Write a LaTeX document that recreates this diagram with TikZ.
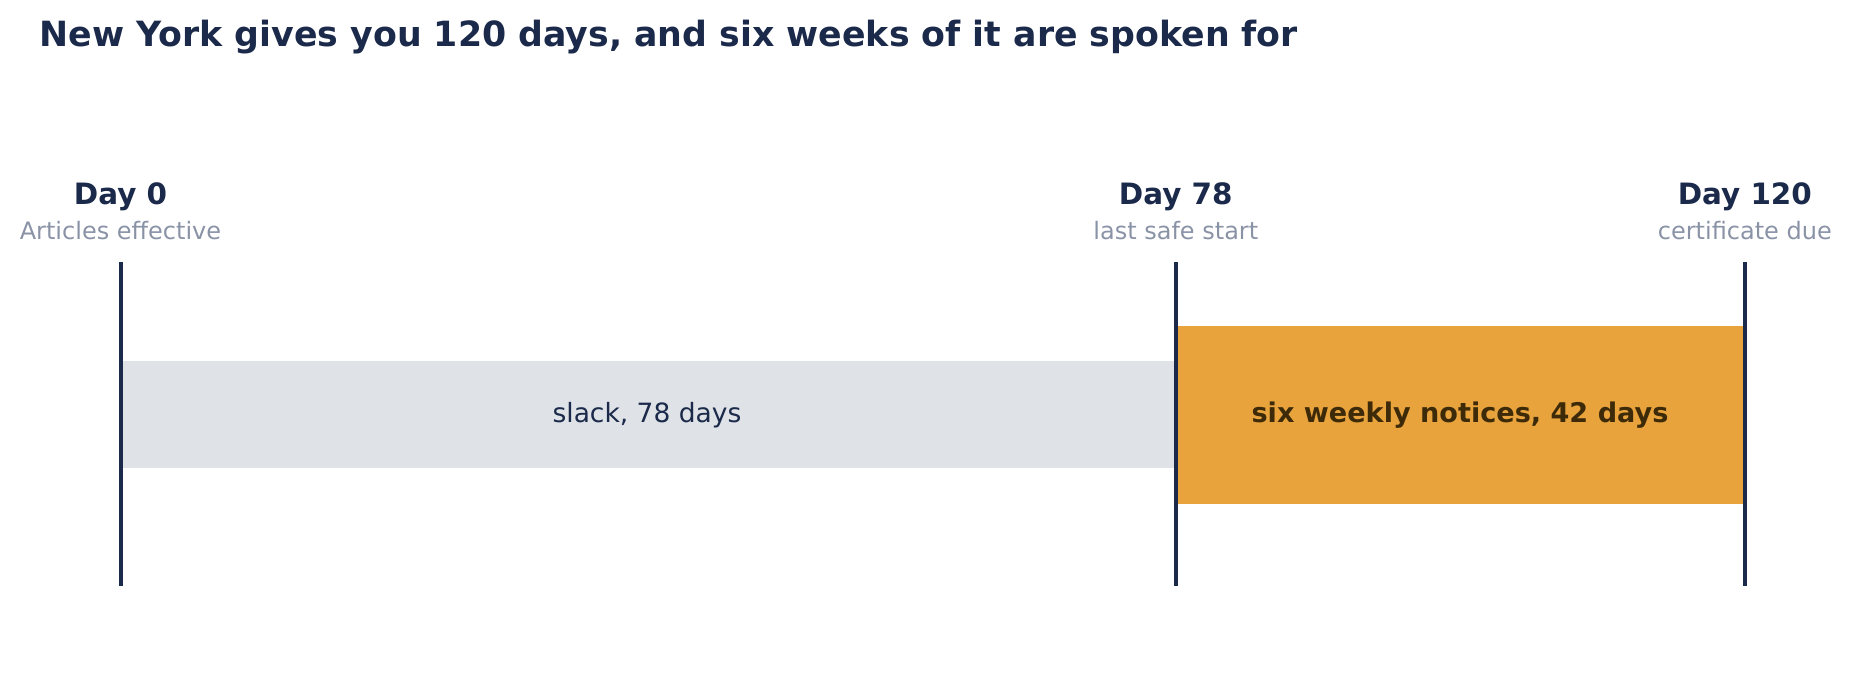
\documentclass[tikz,border=0pt]{standalone}
\usepackage{fontspec}
\setmainfont{DejaVu Sans}
\definecolor{navy}{HTML}{1B2A4A}
\definecolor{subgray}{HTML}{8A93A6}
\definecolor{slackgray}{HTML}{DFE2E6}
\definecolor{orangebar}{HTML}{E8A33C}
\definecolor{orangetext}{HTML}{3D2A08}
\begin{document}
\begin{tikzpicture}[x=1pt,y=-1pt,
  daylabel/.style={anchor=base,inner sep=0pt,text=navy,font=\fontsize{29.4}{32}\selectfont\bfseries},
  sublabel/.style={anchor=base,inner sep=0pt,text=subgray,font=\fontsize{24}{28}\selectfont},
  marker/.style={draw=navy,line width=4pt},
  slackbar/.style={fill=slackgray,draw=none},
  busybar/.style={fill=orangebar,draw=none}]
\useasboundingbox (0,0) rectangle (1851,680);
% title
\node[anchor=base west,inner sep=0pt,text=navy,font=\fontsize{34.75}{40}\selectfont\bfseries] (title) at (39.5,46) {New York gives you 120 days, and six weeks of it are spoken for};
% bars
\fill[slackbar] (122,361) rectangle (1174,467.5);
\fill[busybar] (1176,326) rectangle (1744,504);
\node[anchor=base,inner sep=0pt,text=navy,font=\fontsize{26.5}{30}\selectfont] (slack) at (647,422.7) {slack, 78 days};
\node[anchor=base,inner sep=0pt,text=orangetext,font=\fontsize{27.1}{30}\selectfont\bfseries] (busy) at (1460,422.5) {six weekly notices, 42 days};
% markers
\coordinate (a0) at (120.5,262); \coordinate (b0) at (120.5,585.5);
\coordinate (a1) at (1175.8,262); \coordinate (b1) at (1175.8,585.5);
\coordinate (a2) at (1744.8,262); \coordinate (b2) at (1744.8,585.5);
\draw[marker] (a0) -- (b0);
\draw[marker] (a1) -- (b1);
\draw[marker] (a2) -- (b2);
% labels
\node[daylabel] (d0) at (120.5,204.3) {Day 0};
\node[sublabel] (s0) at (120.5,239) {Articles effective};
\node[daylabel] (d1) at (1175.8,204.3) {Day 78};
\node[sublabel] (s1) at (1175.8,239) {last safe start};
\node[daylabel] (d2) at (1744.8,204.3) {Day 120};
\node[sublabel] (s2) at (1744.8,239) {certificate due};
\end{tikzpicture}
\end{document}
